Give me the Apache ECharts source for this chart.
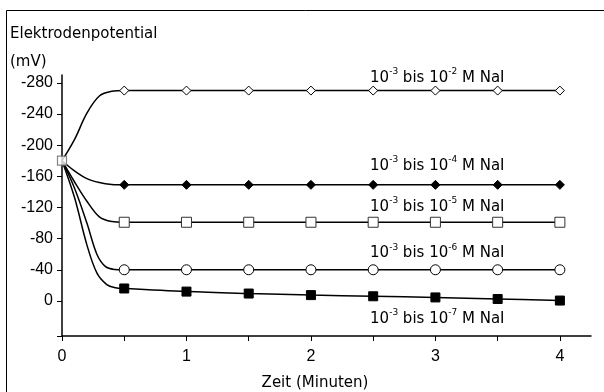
<!DOCTYPE html>
<html>
<head>
<meta charset="utf-8">
<script src="https://cdn.jsdelivr.net/npm/echarts@6/dist/echarts.min.js"></script>
<style>
html,body{margin:0;padding:0;background:#fff;}
#chart{width:604px;height:392px;}
</style>
</head>
<body>
<div id="chart"></div>
<script>
// Measured times (minutes) and values (mV)
const measTimes = [0.5, 1, 1.5, 2, 2.5, 3, 3.5, 4];
const startPoint = [0, -180];
const naI2 = [-270, -270, -270, -270, -270, -270, -270, -270];
const naI4 = [-149, -149, -149, -149, -149, -149, -149, -149];
const naI5 = [-101, -101, -101, -101, -101, -101, -101, -101];
const naI6 = [-40, -40, -40, -40, -40, -40, -40, -40];
const naI7 = [-16, -12, -9.5, -7.5, -6, -4.5, -2.5, -0.5];
// Transition curve readings (between start and first measurement)
const curve2 = [[0.1, -207], [0.2, -241], [0.3, -263], [0.4, -269]];
const curve4 = [[0.1, -167], [0.2, -157], [0.3, -152], [0.4, -149.5]];
const curve5 = [[0.1, -153], [0.2, -128], [0.3, -108], [0.4, -102]];
const curve6 = [[0.1, -145], [0.2, -100], [0.28, -60], [0.35, -44], [0.42, -40.5]];
const curve7 = [[0.1, -133], [0.2, -72], [0.28, -36], [0.36, -21], [0.43, -17]];
const exps = ['-2', '-4', '-5', '-6', '-7'];
const xTicks = [0, 0.5, 1, 1.5, 2, 2.5, 3, 3.5, 4];
const xLabels = [0, 1, 2, 3, 4];
const yLabels = [-280, -240, -200, -160, -120, -80, -40, 0];

const tickFont = 'Liberation Sans, Arial, sans-serif';
const textFont = 'DejaVu Sans, sans-serif';

function buildData(curve, vals) {
  const d = [{value: startPoint.slice(), symbol: 'none'}];
  curve.forEach(p => d.push({value: p, symbol: 'none'}));
  vals.forEach((v, i) => d.push([measTimes[i], v]));
  return d;
}

function labelText(e) {
  return '{b|10}{s|' + '-3' + '}{b| bis 10}{s|' + e + '}{b| M NaI}';
}

const markerStyles = [
  {symbol: 'diamond', size: [9, 9], color: '#fff', border: '#000'},
  {symbol: 'diamond', size: [9, 9], color: '#000', border: '#000'},
  {symbol: 'rect', size: 10, color: '#fff', border: '#333'},
  {symbol: 'circle', size: 10, color: '#fff', border: '#000'},
  {symbol: 'rect', size: 9, color: '#000', border: '#000'}
];
const labelAnchors = [[3.015, -288], [3.015, -175], [3.015, -123], [3.015, -63], [3.015, 21]];
const curves = [curve2, curve4, curve5, curve6, curve7];
const values = [naI2, naI4, naI5, naI6, naI7];

const series = curves.map((c, i) => ({
  type: 'line',
  smooth: 0.35,
  showAllSymbol: true,
  symbol: markerStyles[i].symbol,
  symbolSize: markerStyles[i].size,
  itemStyle: {color: markerStyles[i].color, borderColor: markerStyles[i].border, borderWidth: 1},
  lineStyle: {color: '#000', width: 1.5},
  data: buildData(c, values[i]),
  z: 2,
  animation: false,
  markPoint: {
    symbol: 'circle',
    symbolSize: 0,
    animation: false,
    data: [{coord: labelAnchors[i]}],
    label: {
      show: true,
      position: 'inside',
      formatter: labelText(exps[i]),
      rich: {
        b: {fontSize: 15, fontFamily: textFont, color: '#000', lineHeight: 18, verticalAlign: 'bottom'},
        s: {fontSize: 9, fontFamily: textFont, color: '#000', lineHeight: 18, verticalAlign: 'top'}
      }
    }
  }
}));

series.push({
  type: 'scatter',
  data: [startPoint],
  symbol: 'rect',
  symbolSize: 9,
  itemStyle: {color: '#fff', borderColor: '#666', borderWidth: 1.2},
  z: 5,
  animation: false
});

const chart = echarts.init(document.getElementById('chart'));
chart.setOption({
  animation: false,
  backgroundColor: '#fff',
  grid: {left: 62, right: 13, top: 75, bottom: 56, containLabel: false},
  xAxis: {
    type: 'value',
    min: 0,
    max: 4.25,
    interval: 0.5,
    axisLine: {show: true, onZero: false, lineStyle: {color: '#000', width: 1.5}},
    axisTick: {show: true, customValues: xTicks, length: 5, lineStyle: {color: '#000', width: 1}},
    axisLabel: {customValues: xLabels, color: '#000', fontSize: 16, fontFamily: tickFont, margin: 13},
    splitLine: {show: false}
  },
  yAxis: {
    type: 'value',
    inverse: true,
    min: -290,
    max: 45,
    axisLine: {show: true, onZero: false, lineStyle: {color: '#000', width: 1.5}},
    axisTick: {show: true, customValues: yLabels.concat([45]), length: 5, lineStyle: {color: '#000', width: 1}},
    axisLabel: {customValues: yLabels, color: '#000', fontSize: 16, fontFamily: tickFont, margin: 9},
    splitLine: {show: false}
  },
  graphic: [
    {type: 'rect', shape: {x: 6.5, y: 10.5, width: 700, height: 500}, style: {fill: 'none', stroke: '#000', lineWidth: 1}, z: 0, silent: true},
    {type: 'text', left: 10, top: 27, style: {text: 'Elektrodenpotential', font: '15px ' + textFont, fill: '#000'}},
    {type: 'text', left: 10, top: 55, style: {text: '(mV)', font: '15px ' + textFont, fill: '#000'}},
    {type: 'text', x: 315, y: 383, style: {text: 'Zeit (Minuten)', font: '15px ' + textFont, fill: '#000', align: 'center', verticalAlign: 'middle'}}
  ],
  series: series
});
</script>
</body>
</html>
